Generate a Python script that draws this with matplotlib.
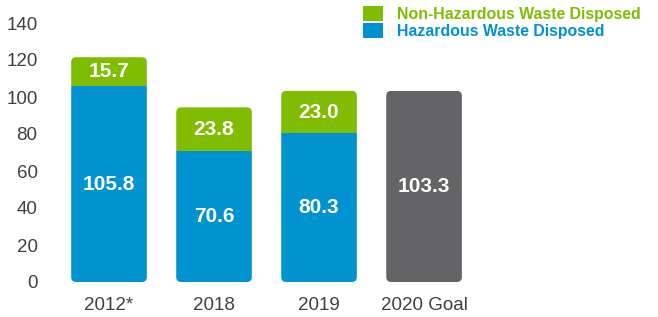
import matplotlib.pyplot as plt
from matplotlib.patches import FancyBboxPatch

categories = ["2012*", "2018", "2019", "2020 Goal"]
hazardous = [105.8, 70.6, 80.3]
non_hazardous = [15.7, 23.8, 23.0]
goal = [103.3]
yticks = [0, 20, 40, 60, 80, 100, 120, 140]

BLUE = "#0093D0"
GREEN = "#80BC00"
GREY = "#646466"
TEXT = "#404040"

plt.rcParams["font.family"] = ["Liberation Sans", "DejaVu Sans"]

fig = plt.figure(figsize=(6.58, 3.17), dpi=100)
ax = fig.add_axes((50 / 658, 35 / 317, 440 / 658, 259 / 317))
ax.set_xlim(-0.562, 3.628)
ax.set_ylim(0, 140)

width = 0.72
x_hist = range(len(hazardous))
b_haz = ax.bar(x_hist, hazardous, width, color=BLUE, label="Hazardous Waste Disposed")
b_non = ax.bar(x_hist, non_hazardous, width, bottom=hazardous, color=GREEN,
               label="Non-Hazardous Waste Disposed")
b_goal = ax.bar([len(hazardous)], goal, width, color=GREY)

# rounded corners: clip each stack to a rounded box in data coords
px_x = 105.0  # pixels per x unit
px_y = 259 / 140  # pixels per y unit
radius = 5 / px_x
aspect = px_x / px_y
stacks = [[h, n] for h, n in zip(b_haz, b_non)] + [[g] for g in b_goal]
for parts in stacks:
    x0 = parts[0].get_x()
    w = parts[0].get_width()
    top = max(p.get_y() + p.get_height() for p in parts)
    box = FancyBboxPatch((x0, 0), w, top,
                         boxstyle=f"round,pad=0,rounding_size={radius}",
                         mutation_aspect=aspect, transform=ax.transData,
                         facecolor="none", edgecolor="none")
    ax.add_patch(box)
    for p in parts:
        p.set_clip_path(box)

for bars in (b_haz, b_non, b_goal):
    ax.bar_label(bars, fmt="%.1f", label_type="center", color="white",
                 fontsize=15, fontweight="bold")

ax.set_xticks(range(len(categories)))
ax.set_xticklabels(categories)
ax.set_yticks(yticks)
ax.tick_params(length=0, labelsize=13.5, colors=TEXT)
ax.tick_params(axis="x", pad=11)
ax.tick_params(axis="y", pad=9)
for s in ax.spines.values():
    s.set_visible(False)

leg = fig.legend(handles=[b_non, b_haz],
                 labels=["Non-Hazardous Waste Disposed", "Hazardous Waste Disposed"],
                 loc="upper left", bbox_to_anchor=(353 / 658, 1.01), frameon=False,
                 handlelength=1.3, handleheight=1.0, handletextpad=0.85,
                 labelspacing=0.1, borderaxespad=0.2,
                 prop={"size": 11.4, "weight": "bold"},
                 labelcolor=[GREEN, BLUE])

fig.savefig("out.png", dpi=100)
